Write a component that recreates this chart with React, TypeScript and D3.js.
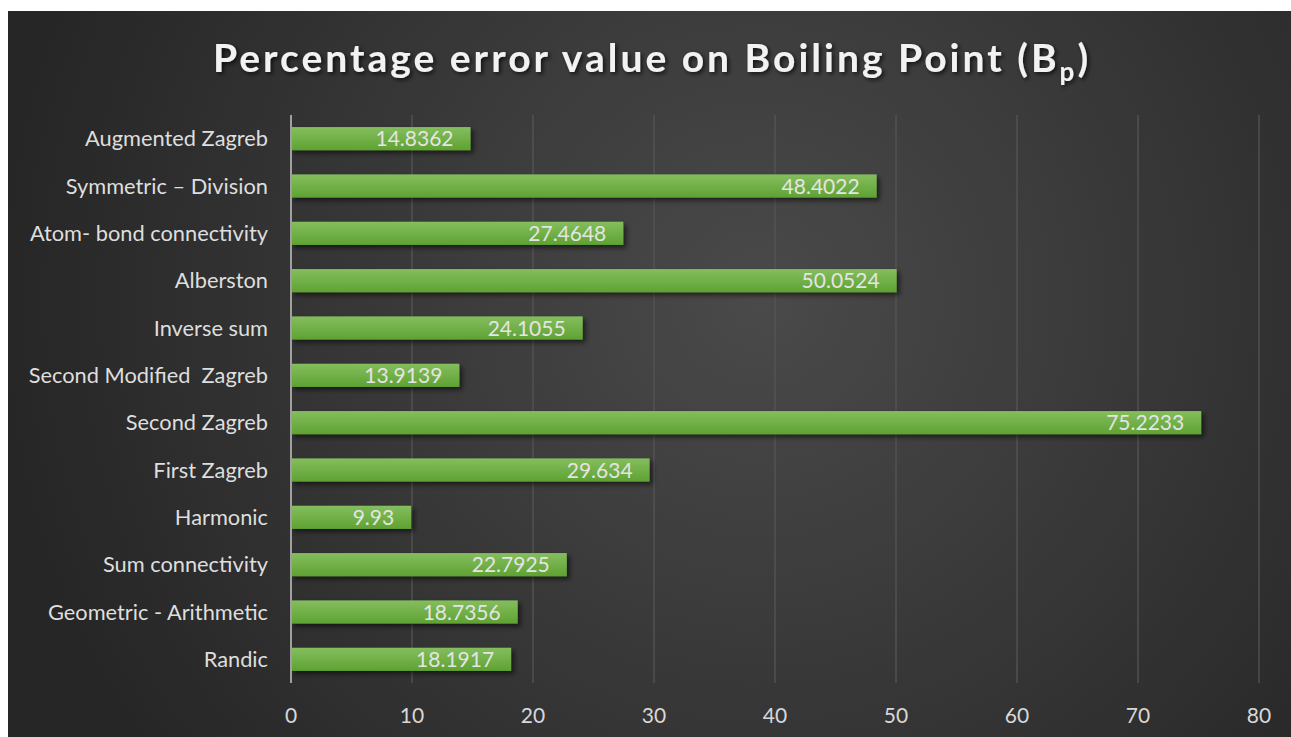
import { useEffect, useRef } from "react";
import * as d3 from "d3";

const categories = [
  "Augmented Zagreb",
  "Symmetric – Division",
  "Atom- bond connectivity",
  "Alberston",
  "Inverse sum",
  "Second Modified  Zagreb",
  "Second Zagreb",
  "First Zagreb",
  "Harmonic",
  "Sum connectivity",
  "Geometric - Arithmetic",
  "Randic",
];
const values = [14.8362, 48.4022, 27.4648, 50.0524, 24.1055, 13.9139, 75.2233, 29.634, 9.93, 22.7925, 18.7356, 18.1917];
const xTicks = [0, 10, 20, 30, 40, 50, 60, 70, 80];

const W = 1291;
const H = 737;
const FONT = "Lato, 'Open Sans', sans-serif";

export default function App() {
  const ref = useRef<SVGSVGElement | null>(null);

  useEffect(() => {
    const svg = d3.select(ref.current);
    svg.selectAll("*").remove();
    svg.attr("width", W).attr("height", H);

    const defs = svg.append("defs");
    const bg = defs
      .append("radialGradient")
      .attr("id", "bgGrad")
      .attr("gradientUnits", "userSpaceOnUse")
      .attr("cx", 760)
      .attr("cy", 300)
      .attr("r", 760);
    bg.append("stop").attr("offset", "0%").attr("stop-color", "#4a4a4a");
    bg.append("stop").attr("offset", "100%").attr("stop-color", "#262626");

    const barGrad = defs
      .append("linearGradient")
      .attr("id", "barGrad")
      .attr("x1", 0)
      .attr("y1", 0)
      .attr("x2", 0)
      .attr("y2", 1);
    barGrad.append("stop").attr("offset", "0%").attr("stop-color", "#84be5e");
    barGrad.append("stop").attr("offset", "100%").attr("stop-color", "#5fa232");

    const shadow = defs.append("filter").attr("id", "barShadow").attr("x", "-5%").attr("y", "-30%").attr("width", "115%").attr("height", "190%");
    shadow.append("feDropShadow").attr("dx", 3).attr("dy", 3).attr("stdDeviation", 2.5).attr("flood-color", "#000").attr("flood-opacity", 0.55);

    const tShadow = defs.append("filter").attr("id", "titleShadow").attr("x", "-5%").attr("y", "-30%").attr("width", "110%").attr("height", "160%");
    tShadow.append("feDropShadow").attr("dx", 2).attr("dy", 2).attr("stdDeviation", 2).attr("flood-color", "#000").attr("flood-opacity", 0.7);

    svg.append("rect").attr("x", 8).attr("y", 11).attr("width", W - 8).attr("height", H - 11).attr("fill", "url(#bgGrad)");

    const x = d3.scaleLinear().domain([0, 80]).range([291, 1259]);
    const y = d3.scaleBand<string>().domain(categories).range([115, 683]).paddingInner(0.51).paddingOuter(0.255);

    // gridlines
    svg
      .append("g")
      .selectAll("line")
      .data(xTicks.slice(1))
      .join("line")
      .attr("x1", (d) => x(d))
      .attr("x2", (d) => x(d))
      .attr("y1", 115)
      .attr("y2", 683)
      .attr("stroke", "#555555")
      .attr("stroke-width", 1.3);

    // bars
    svg
      .append("g")
      .selectAll("rect")
      .data(values)
      .join("rect")
      .attr("x", x(0))
      .attr("y", (_, i) => y(categories[i])!)
      .attr("width", (d) => x(d) - x(0))
      .attr("height", y.bandwidth())
      .attr("fill", "url(#barGrad)")
      .attr("filter", "url(#barShadow)");

    // axis line
    svg
      .append("line")
      .attr("x1", x(0))
      .attr("x2", x(0))
      .attr("y1", 115)
      .attr("y2", 683)
      .attr("stroke", "#a0a0a0")
      .attr("stroke-width", 2);

    // value labels
    svg
      .append("g")
      .selectAll("text")
      .data(values)
      .join("text")
      .attr("x", (d) => x(d) - 17)
      .attr("y", (_, i) => y(categories[i])! + y.bandwidth() / 2 + 7.5)
      .attr("text-anchor", "end")
      .attr("fill", "#e4e4e4")
      .attr("font-family", FONT)
      .attr("font-size", 21)
      .text((d) => String(d));

    // category labels
    svg
      .append("g")
      .selectAll("text")
      .data(categories)
      .join("text")
      .attr("x", 268)
      .attr("y", (d) => y(d)! + y.bandwidth() / 2 + 7.5)
      .attr("text-anchor", "end")
      .attr("fill", "#dedede")
      .attr("font-family", FONT)
      .attr("font-size", 21.8)
      .style("white-space", "pre")
      .text((d) => d);

    // x tick labels
    svg
      .append("g")
      .selectAll("text")
      .data(xTicks)
      .join("text")
      .attr("x", (d) => x(d))
      .attr("y", 723)
      .attr("text-anchor", "middle")
      .attr("fill", "#d8d8d8")
      .attr("font-family", FONT)
      .attr("font-size", 21)
      .text((d) => String(d));

    // title
    const title = svg
      .append("text")
      .attr("x", 652)
      .attr("y", 72)
      .attr("text-anchor", "middle")
      .attr("fill", "#f2f2f2")
      .attr("font-family", FONT)
      .attr("font-weight", 700)
      .attr("font-size", 39)
      .attr("letter-spacing", 3)
      .attr("filter", "url(#titleShadow)");
    title.append("tspan").text("Percentage error value on Boiling Point (B");
    title.append("tspan").attr("font-size", 26).attr("dy", 9).text("p");
    title.append("tspan").attr("dy", -9).text(")");
  }, []);

  return <svg ref={ref} style={{ position: "absolute", left: 0, top: 0, display: "block" }} />;
}
